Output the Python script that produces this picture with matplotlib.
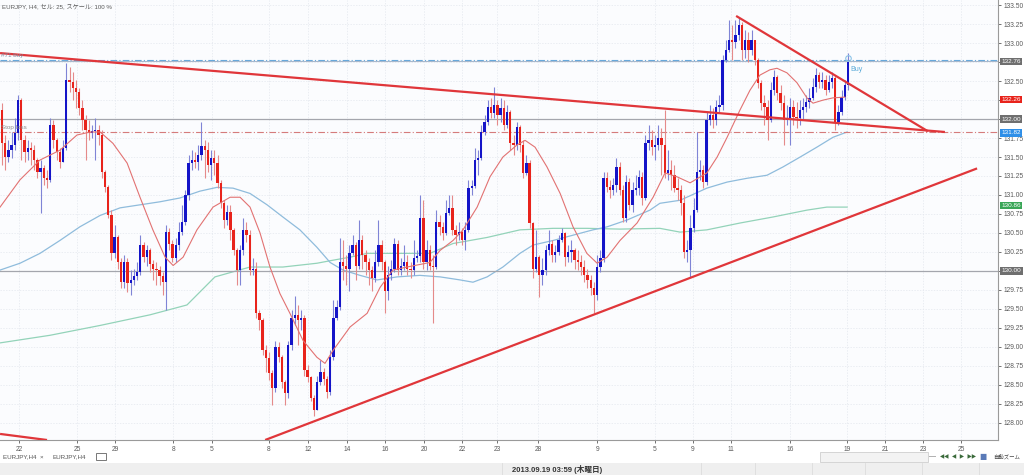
import matplotlib
matplotlib.use("Agg")
import matplotlib.pyplot as plt
import matplotlib.transforms as mtransforms
from matplotlib.patches import Rectangle
import numpy as np

plt.rcParams["font.family"] = ["Liberation Sans", "Noto Sans CJK JP", "DejaVu Sans"]

# EURJPY H4 candles (open = previous close)
FIRST_OPEN = 132.12
CLOSES = [
    131.68, 131.50, 131.59, 131.66, 131.82, 132.25, 131.72, 131.57, 131.62, 131.59,
    131.46, 131.30, 131.35, 131.22, 131.20, 131.92, 131.72, 131.57, 131.43, 131.62,
    132.52, 132.49, 132.41, 132.36, 132.15, 131.99, 131.86, 131.82, 131.84, 131.86,
    131.79, 131.30, 131.10, 130.73, 130.23, 130.44, 130.11, 129.85, 130.11, 129.84,
    129.88, 129.93, 129.98, 130.34, 130.18, 130.27, 130.09, 130.03, 130.01, 129.93,
    129.85, 130.51, 130.36, 130.17, 130.34, 130.51, 130.64, 131.00, 131.42, 131.46,
    131.43, 131.53, 131.64, 131.59, 131.39, 131.49, 131.42, 131.16, 130.89, 130.67,
    130.77, 130.54, 130.27, 130.01, 130.27, 130.54, 130.47, 130.01, 130.03, 129.44,
    129.35, 128.95, 128.85, 128.65, 128.45, 128.99, 128.86, 128.53, 128.39, 129.02,
    129.38, 129.42, 129.35, 129.38, 128.69, 128.60, 128.33, 128.16, 128.53, 128.66,
    128.58, 128.40, 128.86, 129.38, 129.52, 130.11, 130.07, 130.03, 130.23, 130.34,
    130.07, 130.40, 130.21, 130.11, 130.01, 129.90, 130.11, 130.34, 130.11, 129.74,
    129.94, 130.03, 130.36, 130.01, 130.06, 130.11, 130.03, 130.01, 130.17, 130.20,
    130.69, 130.11,
    130.27, 130.07, 130.05, 130.64, 130.58, 130.50, 130.76, 130.83, 130.54, 130.47,
    130.51, 130.40, 130.54, 131.09, 131.12, 131.46, 131.49, 131.83, 131.96, 132.16,
    132.08, 132.18, 132.05, 132.15, 131.92, 132.09, 131.68, 131.66, 131.90, 131.66,
    131.29, 131.42, 130.63, 130.03, 130.18, 129.94, 130.01, 130.27, 130.36, 130.21,
    130.25, 130.40, 130.50, 130.18, 130.25, 130.27, 130.14, 130.11, 130.05, 129.94,
    129.88, 129.78, 129.68, 130.05, 130.17, 131.22, 131.10, 131.06, 131.13, 131.37,
    131.06, 130.69, 131.17, 130.87, 131.06, 131.09, 131.24, 130.96,
    131.68, 131.72, 131.63, 131.66, 131.75, 131.66, 131.29, 131.33, 131.26, 131.09,
    131.06, 130.89, 130.25, 130.27, 130.56, 130.80, 131.30, 131.33, 131.17, 131.99,
    132.05, 131.99, 132.16, 132.18, 132.78, 132.91, 133.04, 133.02, 133.11, 133.24,
    132.91, 133.04, 132.91, 133.04, 132.78, 132.48, 132.21, 132.16, 131.99, 132.38,
    132.55, 132.34, 132.21, 131.99, 132.01, 132.16, 132.03, 132.01, 132.12, 132.16,
    132.22, 132.28, 132.42, 132.58, 132.49, 132.52, 132.38, 132.49, 132.54, 131.96,
    132.09, 132.29, 132.45, 132.75,
]
HIGHS = [
    132.21, 131.79, 131.72, 131.83, 132.01, 132.32, 132.28, 131.79, 131.72, 131.70,
    131.66, 131.49, 131.46, 131.39, 131.33, 132.01, 131.99, 131.75, 131.62, 131.72,
    132.74, 132.69, 132.62, 132.52, 132.41, 132.25, 132.05, 131.99, 131.92, 132.01,
    131.92, 131.86, 131.33, 131.13, 130.80, 130.60, 130.47, 130.17, 130.21, 130.17,
    130.01, 130.03, 130.11, 130.47, 130.38, 130.34, 130.30, 130.14, 130.11, 130.07,
    129.98, 130.60, 130.56, 130.40, 130.43, 130.64, 130.87, 131.06, 131.53, 131.59,
    131.57, 131.66, 131.96, 131.72, 131.70, 131.59, 131.59, 131.53, 131.20, 130.93,
    130.87, 130.87, 130.56, 130.30, 130.34, 130.69, 130.64, 130.54, 130.17, 130.11,
    129.48, 129.38, 129.02, 128.93, 128.69, 129.08, 129.06, 128.89, 128.56, 129.08,
    129.48, 129.67, 129.55, 129.48, 129.42, 128.76, 128.62, 128.36, 128.62, 128.82,
    128.72, 128.62, 128.95, 129.61, 129.61, 130.43, 130.40, 130.21, 130.34, 130.47,
    130.38, 130.67, 130.47, 130.27, 130.17, 130.07, 130.27, 130.67, 130.40, 130.14,
    130.07, 130.14, 130.43, 130.40, 130.17, 130.34, 130.21, 130.11, 130.40, 130.27,
    131.00, 130.93,
    130.40, 130.34, 130.21, 130.80, 130.73, 130.64, 130.93, 131.00, 131.00, 130.60,
    130.64, 130.56, 130.64, 131.20, 131.20, 131.62, 131.59, 131.92, 132.05, 132.25,
    132.28, 132.42, 132.25, 132.28, 132.25, 132.18, 132.12, 131.79, 131.96, 131.92,
    131.72, 131.53, 131.46, 130.64, 130.54, 130.21, 130.17, 130.34, 130.54, 130.40,
    130.34, 130.47, 130.56, 130.51, 130.34, 130.40, 130.30, 130.27, 130.21, 130.14,
    130.03, 129.94, 129.85, 130.21, 130.27, 131.30, 131.30, 131.20, 131.22, 131.49,
    131.43, 131.13, 131.26, 131.22, 131.17, 131.26, 131.33, 131.30,
    131.79, 131.92, 131.86, 131.79, 131.92, 131.88, 132.12, 131.59, 131.46, 131.39,
    131.22, 131.13, 131.00, 130.40, 130.73, 130.96, 131.83, 131.46, 131.39, 132.09,
    132.18, 132.15, 132.25, 132.32, 132.84, 133.04, 133.31, 133.24, 133.31, 133.35,
    133.28, 133.17, 133.15, 133.17, 133.04, 132.81, 132.52, 132.32, 132.25, 132.49,
    132.65, 132.58, 132.45, 132.32, 132.18, 132.28, 132.25, 132.22, 132.25, 132.28,
    132.32, 132.41, 132.54, 132.67, 132.62, 132.62, 132.58, 132.58, 132.62, 132.58,
    132.18, 132.38, 132.52, 132.87,
]
LOWS = [
    131.39, 131.33, 131.43, 131.49, 131.59, 131.72, 131.46, 131.43, 131.46, 131.39,
    131.33, 131.22, 130.76, 131.13, 131.09, 131.17, 131.62, 131.46, 131.35, 131.43,
    131.59, 132.36, 132.25, 132.15, 132.05, 131.86, 131.46, 131.72, 131.75, 131.46,
    131.66, 131.22, 131.04, 130.69, 130.14, 130.17, 130.03, 129.77, 129.77, 129.72,
    129.68, 129.81, 129.88, 129.94, 130.11, 130.07, 129.98, 129.88, 129.81, 129.81,
    129.68, 129.48, 130.27, 130.11, 130.11, 130.27, 130.47, 130.60, 130.93, 131.33,
    131.35, 131.33, 131.46, 131.22, 131.30, 131.20, 131.26, 131.09, 130.83, 130.56,
    130.60, 130.40, 130.21, 129.81, 129.81, 130.21, 130.38, 129.94, 129.94, 129.38,
    129.22, 128.89, 128.66, 128.56, 128.23, 128.40, 128.80, 128.45, 128.23, 128.32,
    128.95, 129.28, 129.02, 129.22, 128.62, 128.53, 128.29, 128.08, 128.16, 128.49,
    128.49, 128.32, 128.36, 128.82, 129.35, 129.48, 129.88, 129.81, 129.74, 130.21,
    129.88, 130.03, 130.03, 129.94, 129.81, 129.74, 129.85, 130.07, 130.01, 129.45,
    129.61, 129.88, 129.98, 129.94, 129.94, 130.01, 129.94, 129.90, 129.94, 130.11,
    130.11, 130.03,
    130.01, 130.01, 129.31, 130.03, 130.47, 130.40, 130.47, 130.73, 130.47, 130.34,
    130.40, 130.34, 130.27, 130.51, 131.00, 131.09, 131.26, 131.46, 131.79, 131.92,
    132.01, 132.01, 131.92, 131.96, 131.86, 131.88, 131.59, 131.53, 131.59, 131.57,
    131.22, 131.26, 130.56, 129.90, 129.98, 129.65, 129.81, 129.94, 130.21, 130.11,
    130.11, 130.21, 130.38, 130.07, 130.11, 130.11, 130.03, 130.01, 129.94, 129.85,
    129.77, 129.68, 129.44, 129.61, 129.98, 130.11, 131.04, 130.96, 131.00, 131.04,
    131.00, 130.64, 130.64, 130.80, 130.77, 131.00, 131.00, 130.87,
    130.93, 131.59, 131.53, 131.46, 131.59, 131.26, 131.22, 131.20, 131.06, 131.04,
    130.93, 130.73, 130.17, 130.11, 129.92, 130.51, 130.77, 131.20, 131.09, 131.13,
    131.92, 131.88, 131.92, 132.09, 132.12, 132.75, 132.88, 132.78, 132.94, 133.04,
    132.78, 132.81, 132.75, 132.84, 132.71, 132.41, 132.12, 131.92, 131.72, 131.96,
    132.32, 132.25, 132.12, 131.66, 131.92, 131.66, 131.92, 131.88, 131.92, 131.99,
    132.09, 132.15, 132.25, 132.36, 132.41, 132.41, 132.32, 132.36, 132.41, 131.86,
    131.92, 132.05, 132.25, 132.38,
]

# moving averages (candle index, price)
RED_MA_X = [-0.6, 5.6, 11.8, 18.0, 23.3, 27.4, 30.5, 34.5, 38.9, 42.9, 46.9, 50.7,
            53.2, 56.3, 60.6, 65.6, 70.9, 74.0, 77.1, 80.2, 83.3, 86.4, 89.5, 93.6,
            97.9, 100.4, 102.9, 108.2, 113.5, 117.5, 121.5, 125.9, 133.0, 136.2,
            140.2, 143.3, 147.7, 151.7, 155.7, 160.1, 162.6, 165.7, 169.4, 173.5,
            177.5, 181.8, 185.0, 188.1, 192.1, 197.4, 202.4, 206.1, 209.8, 213.9,
            219.1, 222.3, 225.4, 229.4, 232.5, 235.6, 238.7, 240.9, 244.0, 247.1,
            250.2, 252.1, 255.2, 258.3, 262.0]
RED_MA_Y = [130.84, 131.20, 131.46, 131.59, 131.79, 131.83, 131.83, 131.68, 131.42,
            130.97, 130.54, 130.18, 130.07, 130.18, 130.54, 130.84, 130.97, 130.97,
            130.84, 130.50, 130.05, 129.70, 129.44, 129.08, 128.86, 128.78, 128.95,
            129.26, 129.44, 129.78, 130.01, 130.05, 130.11, 130.27, 130.40, 130.54,
            130.84, 131.24, 131.50, 131.66, 131.72, 131.63, 131.37, 131.02, 130.58,
            130.23, 130.10, 130.18, 130.40, 130.63, 130.97, 131.29, 131.24, 131.16,
            131.29, 131.50, 131.76, 132.12, 132.38, 132.58, 132.65, 132.67, 132.61,
            132.48, 132.28, 132.21, 132.25, 132.28, 132.29]
BLUE_MA_X = [-0.6, 5.6, 11.8, 18.0, 24.2, 30.5, 36.7, 42.9, 49.1, 55.3, 61.5, 66.8,
             71.8, 77.1, 82.4, 87.3, 92.6, 97.9, 102.0, 106.0, 111.3, 116.6, 122.8,
             129.9, 136.2, 142.4, 146.4, 150.8, 155.7, 161.0, 165.1, 171.3, 177.5,
             183.7, 188.1, 194.3, 201.4, 204.5, 210.8, 219.1, 225.4, 231.6, 237.8,
             242.8, 248.1, 253.3, 258.3, 262.7]
BLUE_MA_Y = [130.01, 130.10, 130.23, 130.40, 130.58, 130.73, 130.83, 130.87, 130.91,
             130.96, 131.05, 131.10, 131.09, 131.02, 130.87, 130.71, 130.54, 130.31,
             130.11, 130.01, 129.94, 129.88, 129.92, 129.94, 129.92, 129.88, 129.85,
             129.92, 130.05, 130.23, 130.34, 130.40, 130.47, 130.54, 130.58, 130.67,
             130.80, 130.89, 130.93, 131.09, 131.17, 131.22, 131.26, 131.37, 131.50,
             131.63, 131.76, 131.83]
GREEN_MA_X = [-0.6, 14.9, 30.5, 46.0, 57.5, 66.2, 77.1, 87.3, 97.9, 102.9, 108.2,
              113.5, 123.7, 133.0, 140.2, 150.8, 161.0, 171.3, 181.8, 192.1, 204.5,
              210.8, 219.1, 229.4, 239.7, 250.2, 256.4, 262.7]
GREEN_MA_Y = [129.05, 129.15, 129.28, 129.42, 129.55, 129.92, 130.05, 130.05, 130.10,
              130.14, 130.18, 130.23, 130.23, 130.23, 130.36, 130.44, 130.54, 130.56,
              130.56, 130.55, 130.56, 130.51, 130.54, 130.63, 130.71, 130.80, 130.84,
              130.84]

# hand-drawn trend lines: start/end (candle index, price)
TREND_X = [[-0.6, 293.1], [228.2, 287.8], [81.8, 303.1], [-0.6, 14.0]]
TREND_Y = [[132.87, 131.83], [133.36, 131.84], [127.77, 131.35], [127.85, 127.77]]

DATE_TICKS = [5.3, 23.3, 35.1, 53.2, 65.3, 83.0, 95.1, 107.2, 119.1, 131.2, 143.0,
              153.9, 166.6, 185.0, 203.0, 214.8, 226.6, 245.0, 262.7, 274.5, 286.3,
              298.1]
DATE_LABELS = ["22", "25", "29", "8", "5", "8", "12", "14", "16", "20", "22", "23",
               "28", "9", "5", "9", "11", "16", "19", "21", "23", "25"]

AXIS_TAGS = [132.76, 132.26, 132.00, 131.82, 130.86, 130.00]
AXIS_TAG_COLORS = ["#6f6f6f", "#e8231b", "#6f6f6f", "#2f8fe8", "#3aa657", "#6f6f6f"]

BUY_PRICE = 132.76
STOP_PRICE = 131.83
LEVEL_LINES = [132.00, 130.00]

BULL, BEAR = "#1414c8", "#e8231b"
BULL_WICK, BEAR_WICK = "#7f84d6", "#e58a8a"

fig = plt.figure(figsize=(10.24, 4.75), dpi=100)
ax = fig.add_axes([0, 0.0737, 0.9746, 0.9263])
ax.set_facecolor("#fbfcfe")

n = len(CLOSES)
x = np.arange(n)
closes = np.array(CLOSES)
opens = np.concatenate([[FIRST_OPEN], closes[:-1]])
highs = np.maximum(np.array(HIGHS), np.maximum(opens, closes))
lows = np.minimum(np.array(LOWS), np.minimum(opens, closes))
up = closes >= opens

ax.vlines(x, lows, highs, colors=np.where(up, BULL_WICK, BEAR_WICK), lw=0.8, zorder=3)
heights = np.maximum(np.abs(closes - opens), 0.012)
ax.bar(x, heights, bottom=np.minimum(opens, closes), width=0.72,
       color=np.where(up, BULL, BEAR), zorder=4)

ax.plot(GREEN_MA_X, GREEN_MA_Y, color="#93d3b9", lw=0.9, zorder=2)
ax.plot(BLUE_MA_X, BLUE_MA_Y, color="#8fbcdc", lw=0.9, zorder=2)
ax.plot(RED_MA_X, RED_MA_Y, color="#e27272", lw=0.8, zorder=5)

for tx, ty in zip(TREND_X, TREND_Y):
    ax.plot(tx, ty, color="#e0363a", lw=1.6, zorder=6, solid_capstyle="butt")

# order levels
ax.axhline(BUY_PRICE + 0.02, color="#64a8dc", lw=0.8, ls=(0, (6, 2, 1, 2)), zorder=2)
ax.axhline(BUY_PRICE, color="#a8b8cc", lw=0.8, zorder=2)
ax.axhline(STOP_PRICE, color="#d57b7b", lw=0.8, ls=(0, (6, 2, 1, 2)), zorder=2)
for lv in LEVEL_LINES:
    ax.axhline(lv, color="#a4a6ad", lw=0.9, zorder=2)

ax.text(-0.4, BUY_PRICE + 0.06, "#71 buy", fontsize=4.5, color="#7c8ba0", zorder=7)
ax.text(-0.4, STOP_PRICE + 0.04, "Stop loss", fontsize=4.5, color="#8c8c8c", zorder=7)
ax.plot([n - 1], [highs[-1] - 0.07], marker="o", ms=4, mfc="none", mec="#8cc4e8",
        mew=0.8, zorder=8)
ax.text(n - 0.4, BUY_PRICE - 0.12, "Buy", fontsize=5, color="#5aaad8", zorder=8)

ax.set_xlim(-0.62, 309.6)
ax.set_ylim(127.77, 133.57)
yticks = np.arange(128.0, 133.51, 0.25)
ax.set_yticks(yticks)
# tick labels hidden where a coloured price tag sits on top of them
ax.set_yticklabels(["" if min(abs(v - t) for t in AXIS_TAGS) < 0.03 else f"{v:.2f}"
                    for v in yticks])
ax.yaxis.tick_right()
ax.set_xticks(DATE_TICKS)
ax.set_xticklabels(DATE_LABELS)
ax.tick_params(axis="y", labelsize=4.8, colors="#5a5a5a", length=2, pad=2, width=0.6)
ax.tick_params(axis="x", labelsize=4.8, colors="#5a5a5a", length=2, pad=2, width=0.6)
ax.grid(True, color="#e3e7ee", lw=0.5, ls=(0, (2, 2)), zorder=0)
for side in ("top", "left"):
    ax.spines[side].set_visible(False)
for side in ("right", "bottom"):
    ax.spines[side].set_color("#9a9a9a")
    ax.spines[side].set_linewidth(0.8)

trans = mtransforms.blended_transform_factory(ax.transAxes, ax.transData)
for val, col in zip(AXIS_TAGS, AXIS_TAG_COLORS):
    ax.text(1.0035, val, f"{val:.2f}", transform=trans, fontsize=4.6, color="white",
            va="center", ha="left", clip_on=False, zorder=10,
            bbox=dict(boxstyle="square,pad=0.2", fc=col, ec="none"))

ax.text(0.002, 0.992, "EURJPY, H4, セル: 25, スケール: 100 %", transform=ax.transAxes,
        fontsize=4.4, color="#5a5a5a", va="top", ha="left")

# tab strip and status bar
fig.text(0.003, 0.038, "EURJPY,H4  ×", fontsize=4.5, color="#555555", va="center")
fig.text(0.051, 0.038, "EURJPY,H4", fontsize=4.5, color="#555555", va="center")
fig.patches.append(Rectangle((0.094, 0.031), 0.010, 0.016, transform=fig.transFigure,
                             fc="none", ec="#777777", lw=0.7))
fig.patches.append(Rectangle((0.801, 0.027), 0.105, 0.022, transform=fig.transFigure,
                             fc="#f3f3f3", ec="#cfcfcf", lw=0.6))
fig.text(0.907, 0.038, "—", fontsize=5, color="#666666", va="center")
fig.text(0.918, 0.038, "◀◀  ◀  ▶  ▶▶", fontsize=4, color="#3a6a3a", va="center",
         family=["DejaVu Sans"])
fig.text(0.956, 0.038, "■", fontsize=5.5, color="#5a7ab8", va="center",
         family=["DejaVu Sans"])
fig.text(0.970, 0.038, "自動ズーム", fontsize=3.9, color="#444444", va="center")
fig.patches.append(Rectangle((0, 0), 1, 0.0253, transform=fig.transFigure,
                             fc="#efefef", ec="none"))
for sx in (0.49, 0.685, 0.737, 0.793, 0.845, 0.9, 0.956):
    fig.lines.append(plt.Line2D([sx, sx], [0, 0.0253], transform=fig.transFigure,
                                color="#dcdcdc", lw=0.6))
fig.text(0.5, 0.0125, "2013.09.19 03:59 (木曜日)", fontsize=5.5, color="#333333",
         va="center", ha="left", weight="bold")

fig.savefig("out.png", dpi=100)
